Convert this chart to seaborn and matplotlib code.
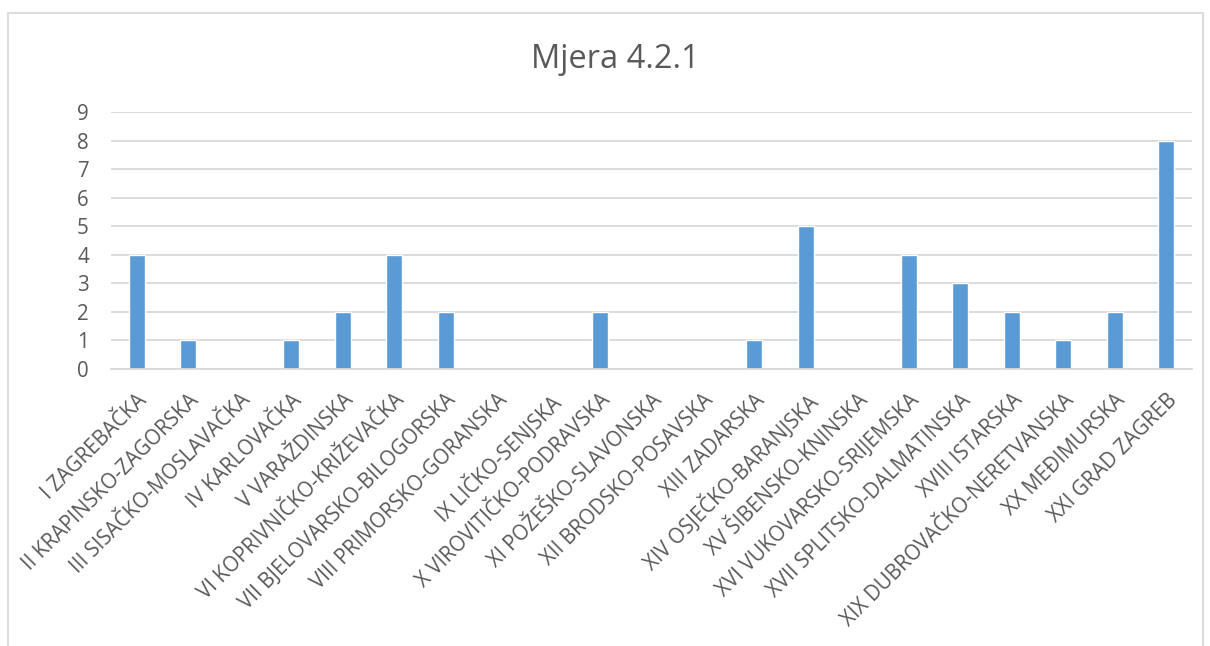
import pandas as pd
import matplotlib
matplotlib.use('Agg')
import matplotlib.pyplot as plt
import seaborn as sns
from matplotlib.patches import Rectangle

# data
zupanije = ['I ZAGREBAČKA', 'II KRAPINSKO-ZAGORSKA', 'III SISAČKO-MOSLAVAČKA',
            'IV KARLOVAČKA', 'V VARAŽDINSKA', 'VI KOPRIVNIČKO-KRIŽEVAČKA',
            'VII BJELOVARSKO-BILOGORSKA', 'VIII PRIMORSKO-GORANSKA',
            'IX LIČKO-SENJSKA', 'X VIROVITIČKO-PODRAVSKA',
            'XI POŽEŠKO-SLAVONSKA', 'XII BRODSKO-POSAVSKA', 'XIII ZADARSKA',
            'XIV OSJEČKO-BARANJSKA', 'XV ŠIBENSKO-KNINSKA',
            'XVI VUKOVARSKO-SRIJEMSKA', 'XVII SPLITSKO-DALMATINSKA',
            'XVIII ISTARSKA', 'XIX DUBROVAČKO-NERETVANSKA', 'XX MEĐIMURSKA',
            'XXI GRAD ZAGREB']
broj = [4, 1, 0, 1, 2, 4, 2, 0, 0, 2, 0, 0, 1, 5, 0, 4, 3, 2, 1, 2, 8]
y_ticks = list(range(0, 10))
title = 'Mjera 4.2.1'

df = pd.DataFrame({'Zupanija': zupanije, 'Broj': broj})

sns.set_style('white')
plt.rcParams['font.family'] = ['Open Sans', 'DejaVu Sans']

fig = plt.figure(figsize=(12.1, 6.46), dpi=100)
ax = fig.add_axes([111 / 1210, 1 - 369 / 646, (1192 - 111) / 1210, (369 - 112) / 646])

sns.barplot(data=df, x='Zupanija', y='Broj', color='#5B9BD5', width=0.31,
            saturation=1, ax=ax)

ax.set_ylim(0, 9)
ax.set_xlim(-0.5, len(zupanije) - 0.5)
ax.set_yticks(y_ticks)
ax.yaxis.grid(True, color='#D9D9D9', linewidth=1.3)
ax.set_axisbelow(True)
for s in ['top', 'right', 'left']:
    ax.spines[s].set_visible(False)
ax.spines['bottom'].set_color('#D9D9D9')
ax.spines['bottom'].set_linewidth(1.3)
ax.tick_params(axis='both', length=0, colors='#595959', labelsize=14.8)
ax.tick_params(axis='y', pad=16)
ax.set_xticks(range(len(zupanije)))
ax.set_xticklabels(zupanije, rotation=45, ha='right', rotation_mode='anchor')
ax.tick_params(axis='x', pad=15)
ax.set_xlabel('')
ax.set_ylabel('')

fig.text(615 / 1210, 1 - 60 / 646, title, ha='center', va='center', fontsize=23.5,
         color='#595959')

# chart border like Excel
fig.patches.append(Rectangle((8 / 1210, -0.05), (1203 - 8) / 1210, 1 - 13 / 646 + 0.05,
                             transform=fig.transFigure, fill=False,
                             edgecolor='#D9D9D9', linewidth=1.3))

fig.savefig('out.png', dpi=100)
